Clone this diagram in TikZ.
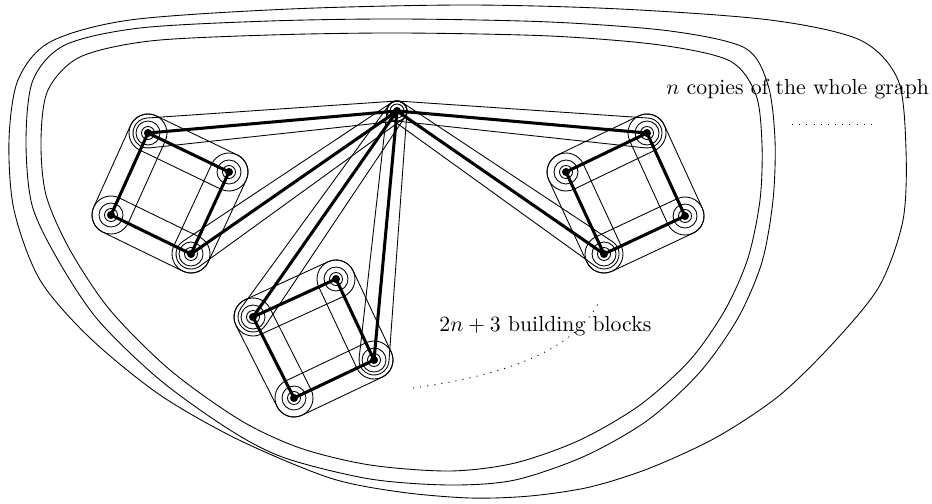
\documentclass[tikz,border=0pt]{standalone}
\usepackage{amsmath}
\usepackage{tikz}
\usetikzlibrary{calc}

% stadium round two vertices, radius #3
\newcommand{\blocktube}[3]{%
    \draw let \p1=(#1.center), \p2=(#2.center), \n1={atan2(\y2-\y1,\x2-\x1)} in
        ($(#1.center)+(\n1+90:#3)$) -- ($(#2.center)+(\n1+90:#3)$)
        arc[start angle=\n1+90, delta angle=-180, radius=#3]
        -- ($(#1.center)+(\n1-90:#3)$)
        arc[start angle=\n1-90, delta angle=-180, radius=#3] -- cycle;}
% hull of two circles, #3 at #1 and #4 at #2
\newcommand{\hubtube}[4]{%
    \draw let \p1=(#1.center), \p2=(#2.center), \n1={atan2(\y2-\y1,\x2-\x1)},
        \n2={acos((#3-#4)*0.46/veclen(\x2-\x1,\y2-\y1))} in
        ($(#1.center)+(\n1+\n2:#3)$) -- ($(#2.center)+(\n1+\n2:#4)$)
        arc[start angle=\n1+\n2, delta angle=-2*\n2, radius=#4]
        -- ($(#1.center)+(\n1-\n2:#3)$)
        arc[start angle=\n1-\n2, delta angle=2*\n2-360, radius=#3] -- cycle;}

\begin{document}
\begin{tikzpicture}[x=0.46pt,y=0.46pt,
    vertex/.style={circle,fill,inner sep=0pt,minimum size=3.7pt},
    edge/.style={line width=1.4pt},
    dots/.style={dash pattern=on 0.5pt off 2.8pt},
    caption/.style={anchor=base west,inner sep=0pt}]
    \useasboundingbox (0,0) rectangle (932,503);
    % the three copies
    \draw plot[smooth cycle] coordinates {(400,470) (550,467) (660,458) (730,442) (756,408) (762,358) (760,303) (748,245) (725,193) (690,143) (640,98) (580,63) (515,40) (450,32) (370,38) (300,55) (240,83) (170,133) (110,193) (70,253) (46,308) (41,363) (48,413) (80,446) (150,462) (270,468)};
    \draw plot[smooth cycle] coordinates {(400,484) (550,481) (670,472) (745,455) (768,418) (775,363) (773,303) (762,241) (738,185) (700,131) (648,83) (585,47) (515,23) (450,18) (370,24) (285,45) (230,73) (160,123) (98,183) (58,243) (32,298) (26,363) (33,423) (65,458) (140,475) (270,482)};
    \draw plot[smooth cycle] coordinates {(466,498) (620,494) (770,483) (860,463) (898,423) (906,353) (903,283) (880,218) (836,163) (780,108) (717,66) (650,35) (590,16) (530,7) (470,5) (400,11) (330,25) (239,63) (160,108) (90,165) (40,223) (14,293) (9,363) (18,423) (50,461) (130,483) (290,494)};
    % vertices
    \node[vertex] (hub) at (397,392) {};
    \node[vertex] (p1) at (148,370) {};
    \node[vertex] (p2) at (229,331) {};
    \node[vertex] (p3) at (191,249) {};
    \node[vertex] (p4) at (111,288) {};
    \node[vertex] (q1) at (253,186) {};
    \node[vertex] (q2) at (336,224) {};
    \node[vertex] (q3) at (374,143) {};
    \node[vertex] (q4) at (294,105) {};
    \node[vertex] (r1) at (647,370) {};
    \node[vertex] (r2) at (685,287) {};
    \node[vertex] (r3) at (604,249) {};
    \node[vertex] (r4) at (566,331) {};
    % rings
    \draw (hub.center) circle[radius=7];
    \draw (p1.center) circle[radius=6.5] (p1.center) circle[radius=12];
    \draw (p2.center) circle[radius=6.5] (p2.center) circle[radius=12];
    \draw (p3.center) circle[radius=6.5] (p3.center) circle[radius=12];
    \draw (p4.center) circle[radius=6.5] (p4.center) circle[radius=12];
    \draw (q1.center) circle[radius=6.5] (q1.center) circle[radius=12];
    \draw (q2.center) circle[radius=6.5] (q2.center) circle[radius=12];
    \draw (q3.center) circle[radius=6.5] (q3.center) circle[radius=12];
    \draw (q4.center) circle[radius=6.5] (q4.center) circle[radius=12];
    \draw (r1.center) circle[radius=6.5] (r1.center) circle[radius=12];
    \draw (r2.center) circle[radius=6.5] (r2.center) circle[radius=12];
    \draw (r3.center) circle[radius=6.5] (r3.center) circle[radius=12];
    \draw (r4.center) circle[radius=6.5] (r4.center) circle[radius=12];
    % building blocks
    \blocktube{p1}{p2}{19} \blocktube{p2}{p3}{19} \blocktube{p3}{p4}{19} \blocktube{p4}{p1}{19}
    \blocktube{q1}{q2}{19} \blocktube{q2}{q3}{19} \blocktube{q3}{q4}{19} \blocktube{q4}{q1}{19}
    \blocktube{r1}{r2}{19} \blocktube{r2}{r3}{19} \blocktube{r3}{r4}{19} \blocktube{r4}{r1}{19}
    \hubtube{hub}{p1}{10}{15} \hubtube{hub}{p3}{10}{15}
    \hubtube{hub}{q1}{10}{15} \hubtube{hub}{q3}{10}{15}
    \hubtube{hub}{r1}{10}{15} \hubtube{hub}{r3}{10}{15}
    % the graph
    \draw[edge] (p1.center) -- (p2.center) -- (p3.center) -- (p4.center) -- cycle;
    \draw[edge] (q1.center) -- (q2.center) -- (q3.center) -- (q4.center) -- cycle;
    \draw[edge] (r1.center) -- (r2.center) -- (r3.center) -- (r4.center) -- cycle;
    \draw[edge] (hub.center) -- (p1.center);
    \draw[edge] (hub.center) -- (p3.center);
    \draw[edge] (hub.center) -- (q1.center);
    \draw[edge] (hub.center) -- (q3.center);
    \draw[edge] (hub.center) -- (r1.center);
    \draw[edge] (hub.center) -- (r3.center);
    % labels
    \node[caption] (copies) at (666,408) {$n$ copies of the whole graph};
    \node[caption] (blocks) at (439,172) {$2n+3$ building blocks};
    \coordinate (dl) at (413,115);
    \coordinate (du) at (600,203);
    \draw[dots] (dl) .. controls (530,131) and (580,163) .. (du);
    \coordinate (el) at (792,379);
    \coordinate (er) at (875,379);
    \draw[dots] (el) -- (er);
\end{tikzpicture}
\end{document}
